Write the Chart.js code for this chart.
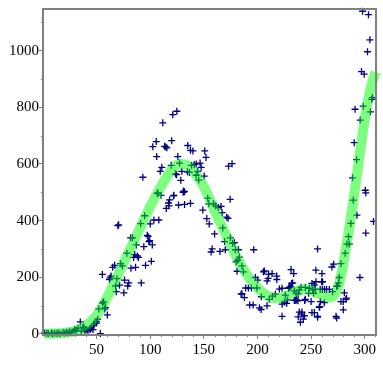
<!DOCTYPE html>
<html>
<head>
<meta charset="utf-8">
<script src="https://cdn.jsdelivr.net/npm/chart.js@4/dist/chart.umd.min.js"></script>
<style>
html,body{margin:0;padding:0;background:#fff;}
#wrap{width:383px;height:369px;}
</style>
</head>
<body>
<div id="wrap"><canvas id="c" width="383" height="369"></canvas></div>
<script>
// observed points [x, y]
const observed = [
[1.6,3],[3.7,2],[5,1],[7.8,3],[9,0],[10.9,2],[13,1],[14,4],[16,0],[18.7,5],[20,2],[21.8,6],[23,3],[24.8,9],[26.4,5],[28,8],[29.5,15],[31,12],[32.6,20],[34.8,42],[35.7,10],[37.2,24],[38.2,23],[39,8],[40.4,15],[41.9,12],[43.5,18],[44,15],[45.1,21],[46.6,15],[47,30],[48,36],[49.7,44],[51,52],[50,38],[53.5,1],[52,88],
[56.5,113],[55.5,109],[58.3,93],[57.5,88],[60,67],[55.3,210],[62.6,198],[62,192],[63.5,204],[65,235],[66.8,242],[67.7,169],[68.3,149],[68.9,195],[69.8,382],[70.5,385],[72.3,248],[74,240],[71.4,172],[76,190],[75.4,145],[78.2,285],[79,169],[80,180],[81.7,339],[83.5,339],[82,232],[84.5,270],[85.5,280],[86.3,235],[87,314],[88,275],[89,270],[91,389],[91.6,180],[94,308],[94.7,417],[95.6,242],[97.2,348],[98,344],[98.7,326],[99.5,329],[100,388],[101,256],[101.9,314],[103.4,402],[108,402],[106.5,495],[110,489],[115,443],[117,462],[117.5,452],[121.7,487],[126.4,455],[130.7,500],[132,502],[132,457],[137.5,461],[107,498],
[93.1,553],[121,774],[124.8,786],[111.7,745],[105.6,679],[102.4,661],[113.3,662],[114.5,660],[115.5,657],[120,682],[106,626],[110.8,588],[109.3,574],[119.5,595],[127.3,603],[125.7,626],[135,665],[139.8,646],[137.5,648],[150.8,646],[152,623],[123.6,565],[124.5,562],[129.4,574],[134.7,572],[136.5,570],[138.5,595],[141,598],[142.8,600],[146.5,603],[147.5,588],[144.3,574],[142.8,560],[150.3,557],[145.2,543],[128.5,542],[131,504],[122,489],[153.6,479],[118,473],[173,592],[176.3,601],
[149,437],[154.6,459],[159,459],[161,452],[163.5,446],[166,450],[167,428],[174.5,475],[152.7,407],[155,388],[160,353],[167.6,374],[171.3,412],[172.5,408],[157.7,300],[156.8,289],[165,291],[170,297],[169.3,326],[174.8,339],[176.9,320],[178.5,322],[179.4,297],[182.2,297],[183.1,271],[181.6,260],[180,254],[185.5,240],[180.9,221],[186.9,219],[196.5,297],
[198,199],[200.2,190],[206.4,222],[208.9,187],[210.4,211],[213.6,213],[217.9,204],[218,192],[189,162],[191.5,162],[194.3,162],[199.4,162],[184.7,140],[185.5,142],[187.8,128],[192.7,102],[195.9,102],[203.6,131],[201.8,92],[203.4,86],[208.9,99],[211,122],[213.9,133],[216.7,140],[220.4,158],[222.9,161],[226,137],[227.2,108],[222.9,62],[229,161],[230.6,166],[231.3,227],[233.7,213],[232.8,180],[236,143],[239,155],[235.5,119],[237.7,117],[239,77],[241.5,77],[240,41],[242.7,52],[243.7,64],[244.6,122],[247.7,143],[253,172],[254,157],[250.8,75],[256,62],[256,300],[254.4,225],[260.1,213],[260.7,184],[258.5,157],[260.5,157],[262.5,157],[264.4,157],[258.6,114],[262.3,110],[257.6,94],[267,157],[270,149],[269.4,236],[271,246],[273.2,62],[274.7,169],[276.2,199],[277.8,248],[280,114],[280,85],[281,145],[283,126],[281.8,285],[283.4,317],[285.6,317],[284.9,343],[287.1,390],[292.7,419],[295.5,199],[301,498],[301,356],[308.2,397],[289.3,472],
[231.8,178],[229.7,164],[234.3,152],[238,141],[240.6,164],[244.6,164],[248.3,161],[250.8,178],[254.5,184],[259.8,184],[251.4,155],[252.3,143],[273.8,168],[275.6,180],[223,105],[225,112],[228,120],[234.3,118],[236.5,120],[244,118],[250,114],[258,96],[253,75],[256,59],[277.8,114],[282.5,122],[273.8,56],[238,60],[241,70],[210,196],[205.5,219],
[298,1139],[303.5,1127],[304.8,1038],[302.6,996],[297,926],[299.5,917],[307.3,834],[306.5,828],[298.6,804],[291,793],[305.3,784],[295.8,755],[290.2,675],[292.4,615],[288.6,551],[300.5,507]
];
// fitted smooth curve
const curveX = [1.5,10,20,30,40,50,60,70,80,90,100,110,120,128,135,142,150,160,170,180,190,200,210,218,226,235,245,255,263,268,273,277,281,285,289,293,297,301,305,310];
const curveY = [0,1,4,10,30,65,130,210,290,370,450,520,580,600,595,565,520,435,355,275,210,162,133,126,133,150,158,146,132,128,145,190,270,360,460,570,680,780,860,925];
// axis ticks
const xTickValues = [50,100,150,200,250,300];
const yTickValues = [0,200,400,600,800,1000];
const xMinorTicks = [10,20,30,40,60,70,80,90,110,120,130,140,160,170,180,190,210,220,230,240,260,270,280,290,310];
const yMinorTicks = [100,300,500,700,900,1100];

const curve = curveX.map((x,i)=>({x:x,y:curveY[i]}));
const pts = observed.map(p=>({x:p[0],y:p[1]}));
const FONT = "'Liberation Serif','Times New Roman','DejaVu Serif',serif";

const framePlugin = {
  id:'frame',
  afterDatasetsDraw(chart){
    const {ctx, chartArea:{left,top,right,bottom}, scales:{x,y}} = chart;
    ctx.save();
    ctx.strokeStyle='#808080';
    ctx.lineWidth=1;
    ctx.beginPath();
    yMinorTicks.forEach(v=>{const py=Math.round(y.getPixelForValue(v))+0.5; ctx.moveTo(left-2,py); ctx.lineTo(left,py);});
    xMinorTicks.forEach(v=>{const px=Math.round(x.getPixelForValue(v))+0.5; ctx.moveTo(px,bottom); ctx.lineTo(px,bottom+2);});
    ctx.stroke();
    ctx.lineWidth=2;
    ctx.strokeRect(left,top,right-left,bottom-top);
    ctx.restore();
  }
};

new Chart(document.getElementById('c'),{
  type:'scatter',
  data:{datasets:[
    {type:'line',data:curve,showLine:true,borderColor:'rgba(0,255,0,0.5)',borderWidth:10,pointRadius:0,cubicInterpolationMode:'monotone',borderCapStyle:'butt',fill:false,clip:false,order:0},
    {data:pts,pointStyle:'cross',pointRadius:3.5,borderColor:'#000080',backgroundColor:'#000080',borderWidth:1.3,clip:false,order:1}
  ]},
  options:{
    responsive:false,animation:false,
    layout:{padding:{top:6,right:7,left:0,bottom:0}},
    plugins:{legend:{display:false},tooltip:{enabled:false}},
    scales:{
      x:{type:'linear',min:0,max:310.5,
        afterFit(s){s.height=34;},
        border:{display:false},
        grid:{drawOnChartArea:false,drawTicks:true,tickLength:4,tickColor:'#808080',tickWidth:1},
        afterBuildTicks(s){s.ticks=xTickValues.map(v=>({value:v}));},
        ticks:{font:{family:FONT,size:15},color:'#000',padding:2,maxRotation:0,autoSkip:false,callback:v=>String(v)}
      },
      y:{type:'linear',min:-4,max:1147,
        afterFit(s){s.width=43;},
        border:{display:false},
        grid:{drawOnChartArea:false,drawTicks:true,tickLength:4,tickColor:'#808080',tickWidth:1},
        afterBuildTicks(s){s.ticks=yTickValues.map(v=>({value:v}));},
        ticks:{font:{family:FONT,size:15},color:'#000',padding:0,autoSkip:false,callback:v=>String(v)}
      }
    }
  },
  plugins:[framePlugin]
});
</script>
</body>
</html>
